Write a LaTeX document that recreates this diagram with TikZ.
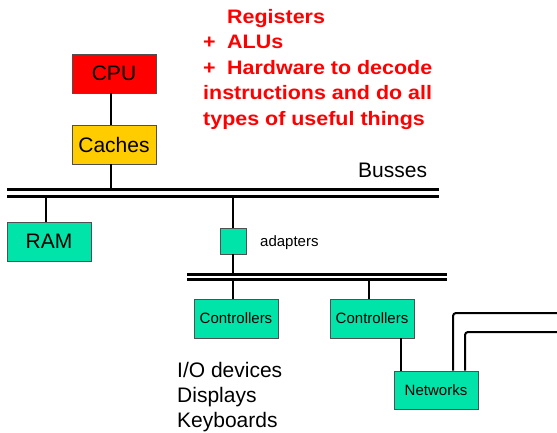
\documentclass[tikz,border=0pt]{standalone}
\usepackage{fontspec}
\setmainfont{Liberation Sans}
\newfontfamily\redfont[FakeStretch=1.1]{Liberation Sans}
\definecolor{boxgreen}{RGB}{0,228,170}
\definecolor{cpured}{RGB}{255,0,0}
\definecolor{cacheyellow}{RGB}{255,204,0}
\definecolor{boxborder}{RGB}{80,80,80}
\begin{document}
\begin{tikzpicture}[x=1pt,y=-1pt,
  unitbox/.style={draw=boxborder,line width=0.8pt,inner sep=0pt,minimum width=84pt,minimum height=39pt,font=\fontsize{21}{24}\selectfont},
  smallbox/.style={unitbox,font=\fontsize{15}{17}\selectfont},
  busline/.style={line width=3pt},
  wire/.style={line width=2pt},
  redtext/.style={text=cpured,font=\redfont\bfseries\fontsize{19.5}{22}\selectfont,anchor=base west,inner sep=0pt},
  plaintext/.style={font=\fontsize{21}{24}\selectfont,anchor=base west,inner sep=0pt},
  smalltext/.style={font=\fontsize{15}{17}\selectfont,anchor=west,inner sep=0pt}]
\useasboundingbox (0,0) rectangle (557,432);
% boxes
\node[unitbox,fill=cpured] (cpu) at (114,73.5) {CPU};
\node[unitbox,fill=cacheyellow] (cache) at (114,144.5) {Caches};
\node[unitbox,fill=boxgreen] (ram) at (49,241.5) {RAM};
\node[draw=boxborder,line width=0.8pt,fill=boxgreen,minimum width=26pt,minimum height=26pt,inner sep=0pt] (adapter) at (233,241) {};
\node[smallbox,fill=boxgreen] (ctrlA) at (236,318.5) {Controllers};
\node[smallbox,fill=boxgreen] (ctrlB) at (372,318.5) {Controllers};
\node[smallbox,fill=boxgreen,minimum height=38pt] (net) at (436,390) {Networks};
% busses
\coordinate (b1tw) at (7,189.5); \coordinate (b1te) at (439,189.5);
\coordinate (b1bw) at (7,196.2); \coordinate (b1be) at (439,196.2);
\coordinate (b2tw) at (187,274.2); \coordinate (b2te) at (447,274.2);
\coordinate (b2bw) at (187,279.6); \coordinate (b2be) at (447,279.6);
\draw[busline] (b1tw) -- (b1te);
\draw[busline] (b1bw) -- (b1be);
\draw[busline] (b2tw) -- (b2te);
\draw[busline] (b2bw) -- (b2be);
% wires
\draw[wire] ([xshift=-3.5pt]cpu.south) -- ([xshift=-3.5pt]cache.north);
\draw[wire] ([xshift=-3.5pt]cache.south) -- ([xshift=-3.5pt]cache.south |- b1tw);
\draw[wire] ([xshift=-3pt]ram.north) -- ([xshift=-3pt]ram.north |- b1bw);
\draw[wire] (adapter.north) -- (adapter.north |- b1bw);
\draw[wire] (adapter.south) -- (adapter.south |- b2tw);
\draw[wire] ([xshift=-3pt]ctrlA.north) -- ([xshift=-3pt]ctrlA.north |- b2bw);
\draw[wire] ([xshift=-3pt]ctrlB.north) -- ([xshift=-3pt]ctrlB.north |- b2bw);
\draw[wire] ([xshift=29pt]ctrlB.south) -- ([xshift=29pt]ctrlB.south |- net.north);
\coordinate (netendA) at (557,313);
\coordinate (netendB) at (557,332);
\draw[wire,rounded corners=3pt] ([xshift=17pt]net.north) |- (netendA);
\draw[wire,rounded corners=3pt] ([xshift=29pt]net.north) |- (netendB);
% labels
\node[plaintext] (busses) at (358,177) {Busses};
\node[smalltext] (adlabel) at (260,243) {adapters};
\node[plaintext] (io1) at (177,377) {I/O devices};
\node[plaintext] (io2) at (177,402) {Displays};
\node[plaintext] (io3) at (177,427) {Keyboards};
% red text
\node[redtext] (r1) at (227,23) {Registers};
\node[redtext] (p2) at (203,48.5) {+};
\node[redtext] (r2) at (227,48.5) {ALUs};
\node[redtext] (p3) at (203,74) {+};
\node[redtext] (r3) at (227,74) {Hardware to decode};
\node[redtext] (r4) at (203,99.5) {instructions and do all};
\node[redtext] (r5) at (203,125) {types of useful things};
\end{tikzpicture}
\end{document}
